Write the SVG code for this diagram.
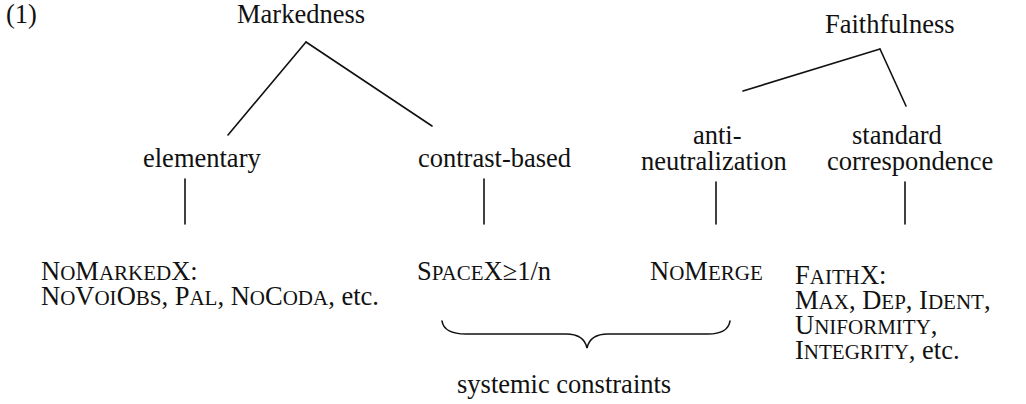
<svg xmlns="http://www.w3.org/2000/svg" width="1026" height="404" viewBox="0 0 1026 404">
  <style>
    text { font-family: 'Liberation Serif'; font-size: 26.5px; fill: #111; }
    .sc { font-size: 21px; }
    .edge { stroke: #111; stroke-width: 1.6; fill: none; stroke-linecap: round; }
  </style>
  <rect width="1026" height="404" fill="#fff"/>

  <text id="label-1" font-family="Liberation Serif" x="6" y="23">(1)</text>

  <g id="connectors">
    <line class="edge" x1="306" y1="42" x2="228" y2="135"/>
    <line class="edge" x1="306" y1="42" x2="432" y2="126"/>
    <line class="edge" x1="880" y1="49" x2="743" y2="91"/>
    <line class="edge" x1="880" y1="49" x2="906" y2="106"/>
    <line class="edge" x1="185" y1="179" x2="185" y2="224"/>
    <line class="edge" x1="484" y1="179" x2="484" y2="224"/>
    <line class="edge" x1="716" y1="182" x2="716" y2="224"/>
    <line class="edge" x1="905" y1="182" x2="905" y2="224"/>
  </g>

  <g id="markedness"><text font-family="Liberation Serif" x="237" y="23">Markedness</text></g>
  <g id="faithfulness"><text font-family="Liberation Serif" x="825" y="33">Faithfulness</text></g>

  <g id="elementary"><text font-family="Liberation Serif" x="143" y="167">elementary</text></g>
  <g id="contrast-based"><text font-family="Liberation Serif" x="418" y="167">contrast-based</text></g>
  <g id="anti-neutralization">
    <text font-family="Liberation Serif" x="693" y="144">anti-</text>
    <text font-family="Liberation Serif" x="641" y="170">neutralization</text>
  </g>
  <g id="standard-correspondence">
    <text font-family="Liberation Serif" x="852" y="144">standard</text>
    <text font-family="Liberation Serif" x="827" y="170">correspondence</text>
  </g>

  <g id="nomarkedx">
    <text font-family="Liberation Serif" x="41" y="280">N<tspan class="sc">O</tspan>M<tspan class="sc">ARKED</tspan>X:</text>
    <text font-family="Liberation Serif" x="41" y="305">N<tspan class="sc">O</tspan>V<tspan class="sc">OI</tspan>O<tspan class="sc">BS</tspan>, P<tspan class="sc">AL</tspan>, N<tspan class="sc">O</tspan>C<tspan class="sc">ODA</tspan>, etc.</text>
  </g>
  <g id="spacex"><text font-family="Liberation Serif" x="417" y="280">S<tspan class="sc">PACE</tspan>X≥1/n</text></g>
  <g id="nomerge"><text font-family="Liberation Serif" x="650" y="280">N<tspan class="sc">O</tspan>M<tspan class="sc">ERGE</tspan></text></g>
  <g id="faithx">
    <text font-family="Liberation Serif" x="795" y="284">F<tspan class="sc">AITH</tspan>X:</text>
    <text font-family="Liberation Serif" x="795" y="309">M<tspan class="sc">AX</tspan>, D<tspan class="sc">EP</tspan>, I<tspan class="sc">DENT</tspan>,</text>
    <text font-family="Liberation Serif" x="795" y="334">U<tspan class="sc">NIFORMITY</tspan>,</text>
    <text font-family="Liberation Serif" x="795" y="359">I<tspan class="sc">NTEGRITY</tspan>, etc.</text>
  </g>

  <g id="systemic">
    <path class="edge" d="M442,321 Q444,334 466,334 L566,334 Q584,334 587,348 Q590,334 608,334 L708,334 Q728,334 730,321"/>
    <text font-family="Liberation Serif" x="457" y="393">systemic constraints</text>
  </g>
</svg>
